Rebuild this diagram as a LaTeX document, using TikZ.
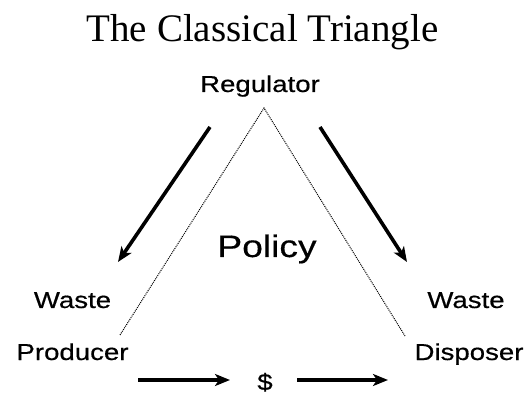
\documentclass[tikz,border=0pt]{standalone}
\usepackage{fontspec}
\setmainfont{Liberation Serif}
\newfontfamily\labelfont[FakeStretch=1.2,FakeBold=0.5]{Liberation Sans}
\usetikzlibrary{arrows.meta}
\begin{document}
\begin{tikzpicture}[x=1pt,y=-1pt,
  lbl/.style={inner sep=0pt,anchor=base,font=\labelfont\fontsize{23}{26}\selectfont},
  flow/.style={line width=3.6pt,-{Stealth[length=15pt,width=12pt,inset=4pt]}},
  side/.style={line width=1pt,dash pattern=on 1pt off 1pt}]
  \useasboundingbox (0,0) rectangle (528,398);
  % heading
  \node[inner sep=0pt,anchor=base,font=\fontsize{39}{44}\selectfont] (title) at (262.5,42) {The Classical Triangle};
  % parties
  \node[lbl] (reg) at (260,92) {Regulator};
  \node[lbl] (pw) at (72.5,308) {Waste};
  \node[lbl] (prod) at (72.5,360) {Producer};
  \node[lbl] (dw) at (466,308) {Waste};
  \node[lbl] (disp) at (469,360) {Disposer};
  \node[lbl] (money) at (265,390) {\$};
  \node[inner sep=0pt,anchor=base,font=\labelfont\fontsize{31}{34}\selectfont] (pol) at (267,257) {Policy};
  % corners of the triangle
  \coordinate (top) at (264,108);
  \coordinate (lc) at (120,335);
  \coordinate (rc) at (405,336);
  \draw[side] (lc) -- (top) -- (rc);
  % regulation flows
  \coordinate (la) at (210,127);
  \coordinate (lb) at (118,262);
  \coordinate (ra) at (320,127);
  \coordinate (rb) at (407,262);
  \draw[flow] (la) -- (lb);
  \draw[flow] (ra) -- (rb);
  % payment flows
  \coordinate (ma) at (138,380);
  \coordinate (mb) at (230,380);
  \coordinate (mc) at (297,380);
  \coordinate (md) at (388,380);
  \draw[flow] (ma) -- (mb);
  \draw[flow] (mc) -- (md);
\end{tikzpicture}
\end{document}
